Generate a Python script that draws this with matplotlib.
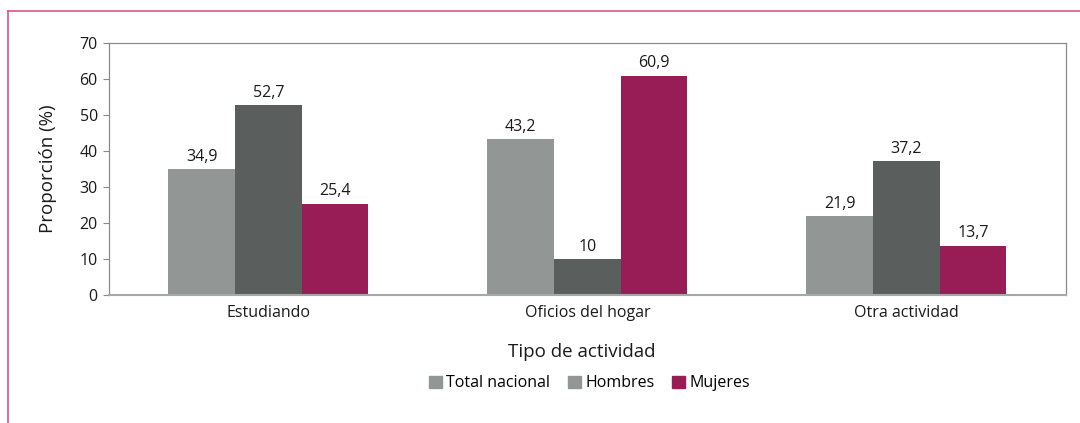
import numpy as np
import matplotlib.pyplot as plt
from matplotlib.patches import Patch
from matplotlib.lines import Line2D

plt.rcParams['font.family'] = ['Open Sans', 'DejaVu Sans']

categorias = ["Estudiando", "Oficios del hogar", "Otra actividad"]
total_nacional = [34.9, 43.2, 21.9]
hombres = [52.7, 10, 37.2]
mujeres = [25.4, 60.9, 13.7]
etiquetas_total = ["34,9", "43,2", "21,9"]
etiquetas_hombres = ["52,7", "10", "37,2"]
etiquetas_mujeres = ["25,4", "60,9", "13,7"]
series = ["Total nacional", "Hombres", "Mujeres"]

c_total = "#929795"
c_hombres = "#5a5f5e"
c_mujeres = "#981c55"

fig = plt.figure(figsize=(10.8, 4.23), dpi=100)
ax = fig.add_axes([0.1009, 0.3026, 0.8861, 0.596])

x = np.arange(len(categorias))
w = 0.209
b1 = ax.bar(x - w, total_nacional, w, color=c_total)
b2 = ax.bar(x, hombres, w, color=c_hombres)
b3 = ax.bar(x + w, mujeres, w, color=c_mujeres)

for barras, etiq in [(b1, etiquetas_total), (b2, etiquetas_hombres), (b3, etiquetas_mujeres)]:
    ax.bar_label(barras, labels=etiq, padding=3, fontsize=11.5, color="#1a1a1a")

ax.set_xlim(-0.5, 2.5)
ax.set_ylim(0, 70)
ax.set_yticks(range(0, 71, 10))
ax.set_xticks(x)
ax.set_xticklabels(categorias, fontsize=11.5, color="#1a1a1a")
ax.tick_params(axis="x", length=0, pad=7)
ax.tick_params(axis="y", length=4, width=0.8, color="#888888", labelsize=11.5, labelcolor="#1a1a1a", pad=4)

for s in ["left", "top", "right"]:
    ax.spines[s].set_color("#8a8a8a")
    ax.spines[s].set_linewidth(0.9)
ax.spines["bottom"].set_color("#a8a8a8")
ax.spines["bottom"].set_linewidth(1.5)

ax.set_ylabel("Proporción (%)", fontsize=13.5, color="#1a1a1a", labelpad=16)
fig.text(0.539, 0.168, "Tipo de actividad", ha="center", va="center", fontsize=13.5, color="#1a1a1a")

handles = [Patch(color=c_total), Patch(color=c_total), Patch(color=c_mujeres)]
fig.legend(handles, series, loc="center", bbox_to_anchor=(0.546, 0.094), ncol=3, frameon=False,
           fontsize=11.5, handlelength=0.8, handleheight=0.8, handletextpad=0.3, columnspacing=1.1)

# marco rosado
fig.add_artist(Line2D([0.0074, 1.0], [0.974, 0.974], color="#d9558a", lw=1.2, transform=fig.transFigure))
fig.add_artist(Line2D([0.0074, 0.0074], [0.0, 0.974], color="#d9558a", lw=1.2, transform=fig.transFigure))

fig.savefig("out.png", dpi=100)
